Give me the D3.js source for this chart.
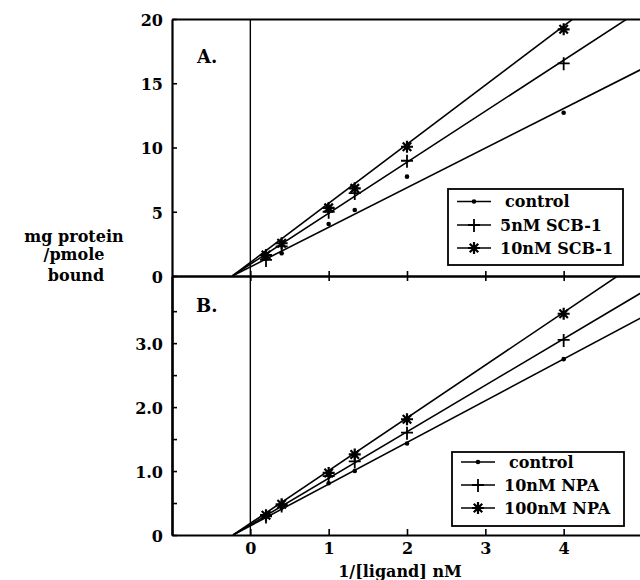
<!DOCTYPE html>
<html>
<head>
<meta charset="utf-8">
<script src="https://cdn.jsdelivr.net/npm/d3@7"></script>
<style>
  body { margin: 0; background: #fff; }
  text { font-family: "DejaVu Serif", serif; font-weight: bold; fill: #000; }
</style>
</head>
<body>
<div id="chart"></div>
<script>
"use strict";

// 1/[ligand] values used in both panels
const xValues = [0.2, 0.4, 1, 1.333, 2, 4];

// panel A
const seriesA = ["control", "5nM SCB-1", "10nM SCB-1"];
const controlA = [1.35, 1.77, 4.05, 5.14, 7.73, 12.7];
const scb5 = [1.25, 2.3, 5.0, 6.45, 8.97, 16.55];
const scb10 = [1.63, 2.55, 5.3, 6.82, 10.06, 19.2];
const slopesA = [3.08, 3.97, 4.6];
const xInterceptA = -0.23;

// panel B
const seriesB = ["control", "10nM NPA", "100nM NPA"];
const controlB = [0.28, 0.43, 0.81, 1.0, 1.43, 2.75];
const npa10 = [0.29, 0.46, 0.92, 1.15, 1.6, 3.05];
const npa100 = [0.31, 0.48, 0.97, 1.26, 1.81, 3.46];
const slopesB = [0.652, 0.727, 0.825];
const xInterceptB = -0.22;

const yTicksA = [0, 5, 10, 15, 20];
const yTicksB = [0, 1, 2, 3];
const yMinorB = [0.5, 1.5, 2.5, 3.5];
const xTicks = [0, 1, 2, 3, 4];
const markers = ["dot", "plus", "star"];

const W = 640, H = 580;
const svg = d3.select("#chart").append("svg")
  .attr("width", W).attr("height", H);

const left = 172, right = 642;
const x = d3.scaleLinear().domain([-1, 5]).range([left, right]);
const yA = d3.scaleLinear().domain([0, 20]).range([276, 19]);
const yB = d3.scaleLinear().domain([0, 4.05]).range([535, 276]);

// clip areas for each panel
const defs = svg.append("defs");
defs.append("clipPath").attr("id", "clipA").append("rect")
  .attr("x", left).attr("y", 19).attr("width", W - left).attr("height", 257);
defs.append("clipPath").attr("id", "clipB").append("rect")
  .attr("x", left).attr("y", 276).attr("width", W - left).attr("height", 259);

function drawMarker(g, type, cx, cy) {
  if (type === "dot") {
    g.append("circle").attr("cx", cx).attr("cy", cy).attr("r", 2.3).attr("fill", "#000");
  } else if (type === "plus") {
    g.append("path")
      .attr("d", `M${cx - 6},${cy}H${cx + 6}M${cx},${cy - 6}V${cy + 7}`)
      .attr("stroke", "#000").attr("stroke-width", 1.8).attr("fill", "none");
  } else {
    let d = "";
    for (let k = 0; k < 4; k++) {
      const a = k * Math.PI / 4;
      const dx = 6 * Math.cos(a), dy = 6 * Math.sin(a);
      d += `M${cx - dx},${cy - dy}L${cx + dx},${cy + dy}`;
    }
    g.append("path").attr("d", d)
      .attr("stroke", "#000").attr("stroke-width", 2.2).attr("fill", "none");
    g.append("circle").attr("cx", cx).attr("cy", cy).attr("r", 2.5).attr("fill", "#000");
  }
}

function drawPanel(y, values, slopes, x0, clipId) {
  const g = svg.append("g");
  const lineG = g.append("g").attr("clip-path", `url(#${clipId})`);
  const line = d3.line().x(d => x(d[0])).y(d => y(d[1]));
  slopes.forEach(m => {
    lineG.append("path")
      .attr("d", line([[x0, 0], [5, m * (5 - x0)]]))
      .attr("stroke", "#000").attr("stroke-width", 1.6).attr("fill", "none");
  });
  values.forEach((vals, i) => {
    vals.forEach((v, j) => drawMarker(g, markers[i], x(xValues[j]), y(v)));
  });
}

// vertical line at x = 0
svg.append("line")
  .attr("x1", x(0)).attr("x2", x(0)).attr("y1", yA(20)).attr("y2", yB(0))
  .attr("stroke", "#000").attr("stroke-width", 1.4);

drawPanel(yA, [controlA, scb5, scb10], slopesA, xInterceptA, "clipA");
drawPanel(yB, [controlB, npa10, npa100], slopesB, xInterceptB, "clipB");

function styleAxis(g) {
  g.select(".domain").attr("stroke-width", 2.2);
  g.selectAll(".tick line").attr("stroke-width", 1.6);
  g.selectAll("text").style("font-size", "16px").style("font-family", "DejaVu Serif").style("font-weight", "bold");
}

// panel A left axis
svg.append("g")
  .attr("transform", `translate(${left},0)`)
  .call(d3.axisLeft(yA).tickValues(yTicksA).tickSizeInner(-5).tickSizeOuter(0).tickPadding(9))
  .call(styleAxis)
  .call(g => g.selectAll("text").attr("dy", "0.4em"));

// panel A top border
svg.append("g")
  .attr("transform", `translate(0,${yA(20)})`)
  .call(d3.axisTop(x).tickValues([]).tickSizeOuter(0))
  .call(styleAxis);

// shared middle axis, ticks crossing
svg.append("g")
  .attr("transform", `translate(0,${yA(0)})`)
  .call(d3.axisBottom(x).tickValues(xTicks).tickSize(5).tickSizeOuter(0).tickFormat(""))
  .call(styleAxis);
svg.append("g")
  .attr("transform", `translate(0,${yA(0)})`)
  .call(d3.axisTop(x).tickValues(xTicks).tickSize(5).tickSizeOuter(0).tickFormat(""))
  .call(styleAxis);

// panel B left axis
svg.append("g")
  .attr("transform", `translate(${left},0)`)
  .call(d3.axisLeft(yB).tickValues(yTicksB).tickSizeInner(-5).tickSizeOuter(0).tickPadding(9)
    .tickFormat(d => d === 0 ? "0" : d3.format(".1f")(d)))
  .call(styleAxis)
  .call(g => g.selectAll("text").attr("dy", "0.4em"));
svg.append("g")
  .attr("transform", `translate(${left},0)`)
  .call(d3.axisLeft(yB).tickValues(yMinorB).tickSizeInner(-5).tickSizeOuter(0).tickFormat(""))
  .call(styleAxis);

// panel B bottom axis
svg.append("g")
  .attr("transform", `translate(0,${yB(0)})`)
  .call(d3.axisBottom(x).tickValues(xTicks).tickSizeInner(-6).tickSizeOuter(0).tickPadding(8)
    .tickFormat(d3.format("d")))
  .call(styleAxis);

// axis titles
svg.append("text").attr("x", 400).attr("y", 577).attr("text-anchor", "middle")
  .style("font-size", "16px").text("1/[ligand] nM");
const yTitle = svg.append("text").attr("text-anchor", "middle").style("font-size", "16px");
yTitle.append("tspan").attr("x", 74).attr("y", 242).text("mg protein");
yTitle.append("tspan").attr("x", 74).attr("y", 260).text("/pmole");
yTitle.append("tspan").attr("x", 76).attr("y", 281).text("bound");

// panel letters
svg.append("text").attr("x", 197).attr("y", 63).style("font-size", "18px").text("A.");
svg.append("text").attr("x", 196).attr("y", 312).style("font-size", "18px").text("B.");

// legends
function drawLegend(bx, by, bw, bh, names, rowY) {
  const g = svg.append("g");
  g.append("rect").attr("x", bx).attr("y", by).attr("width", bw).attr("height", bh)
    .attr("fill", "#fff").attr("stroke", "#000").attr("stroke-width", 1.8);
  names.forEach((name, i) => {
    const cy = by + rowY[i];
    g.append("line").attr("x1", bx + 9).attr("x2", bx + 43).attr("y1", cy).attr("y2", cy)
      .attr("stroke", "#000").attr("stroke-width", 1.6);
    drawMarker(g, markers[i], bx + 26, cy);
    g.append("text").attr("x", bx + (i === 0 ? 57 : 52)).attr("y", cy).attr("dy", "0.35em")
      .style("font-size", "16px").text(name);
  });
}
drawLegend(448, 189, 175, 76, seriesA, [12.5, 36, 59]);
drawLegend(452, 452, 172, 74, seriesB, [10, 33, 56]);
</script>
</body>
</html>
